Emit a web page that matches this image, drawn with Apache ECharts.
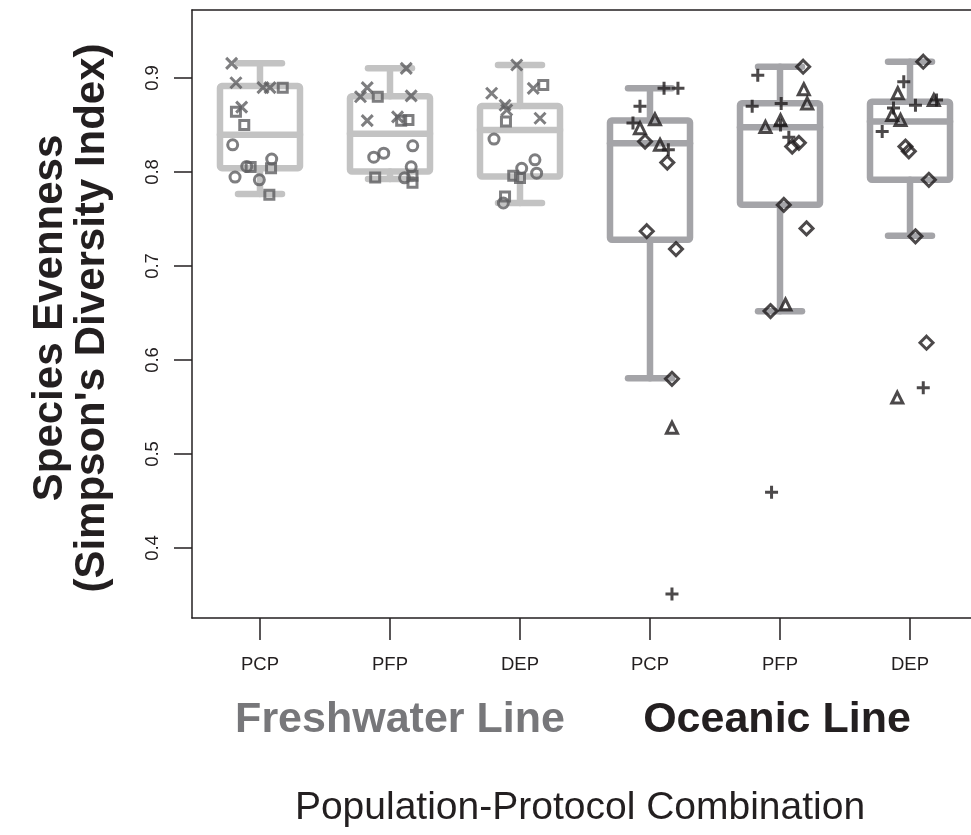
<!DOCTYPE html>
<html>
<head>
<meta charset="utf-8">
<title>Species Evenness by Population-Protocol Combination</title>
<script src="https://cdn.jsdelivr.net/npm/echarts@6/dist/echarts.min.js"></script>
<style>
  html, body { margin: 0; padding: 0; background: #ffffff; }
  #chart { width: 971px; height: 835px; }
</style>
</head>
<body>
<div id="chart"></div>
<script>
// Population-protocol combinations (first three: freshwater line, last three: oceanic line)
const categories = ['PCP', 'PFP', 'DEP', 'PCP', 'PFP', 'DEP'];
const lineNames = ['Freshwater Line', 'Oceanic Line'];
const yTicks = [0.4, 0.5, 0.6, 0.7, 0.8, 0.9];

// Box-and-whisker summaries per combination
const boxMin    = [0.7765, 0.7925, 0.7670, 0.5805, 0.6519, 0.7323];
const boxQ1     = [0.8041, 0.8005, 0.7952, 0.7280, 0.7652, 0.7917];
const boxMedian = [0.8395, 0.8406, 0.8448, 0.8307, 0.8477, 0.8536];
const boxQ3     = [0.8915, 0.8806, 0.8703, 0.8547, 0.8731, 0.8748];
const boxMax    = [0.9156, 0.9103, 0.9138, 0.8890, 0.9120, 0.9173];

// Replicate observations: [combination index, jitter, evenness]
const fwCross = [
  [0, -0.218, 0.9156], [0, -0.185, 0.895], [0, 0.023, 0.8897], [0, 0.077, 0.8897], [0, -0.141, 0.869],
  [1, 0.125, 0.9103], [1, -0.175, 0.8897], [1, -0.227, 0.8801], [1, 0.163, 0.881], [1, -0.175, 0.8547], [1, 0.058, 0.8586],
  [2, -0.025, 0.9138], [2, 0.102, 0.889], [2, -0.218, 0.8838], [2, -0.115, 0.871], [2, -0.102, 0.866], [2, 0.154, 0.8572]
];
const fwSquare = [
  [0, 0.175, 0.8897], [0, -0.185, 0.864], [0, -0.121, 0.850], [0, 0.085, 0.8041], [0, -0.072, 0.8052], [0, 0.072, 0.7758],
  [1, -0.094, 0.8801], [1, 0.086, 0.8544], [1, 0.142, 0.8554], [1, -0.114, 0.7942], [1, 0.173, 0.796], [1, 0.173, 0.7885],
  [2, 0.179, 0.8926], [2, -0.108, 0.8536], [2, -0.052, 0.796], [2, 0.0, 0.7935], [2, -0.115, 0.774]
];
const fwCircle = [
  [0, -0.21, 0.8289], [0, 0.09, 0.8137], [0, -0.102, 0.8059], [0, -0.192, 0.7946], [0, -0.005, 0.7917],
  [1, 0.175, 0.8278], [1, -0.125, 0.8158], [1, -0.048, 0.820], [1, 0.112, 0.7938], [1, 0.163, 0.8055],
  [2, -0.2, 0.835], [2, 0.115, 0.813], [2, 0.128, 0.7988], [2, 0.013, 0.804], [2, -0.128, 0.767]
];
const ocPlus = [
  [3, 0.108, 0.889], [3, 0.215, 0.889], [3, -0.077, 0.870], [3, -0.131, 0.852], [3, 0.141, 0.8236], [3, 0.169, 0.351],
  [4, -0.171, 0.903], [4, -0.214, 0.870], [4, 0.009, 0.873], [4, 0.004, 0.850], [4, 0.068, 0.837], [4, -0.065, 0.4594],
  [5, -0.048, 0.896], [5, 0.042, 0.871], [5, 0.204, 0.8766], [5, -0.127, 0.868], [5, -0.214, 0.843], [5, 0.102, 0.5706]
];
const ocTriangle = [
  [3, 0.038, 0.856], [3, -0.077, 0.8466], [3, 0.077, 0.829], [3, 0.169, 0.528],
  [4, 0.183, 0.888], [4, 0.209, 0.873], [4, -0.112, 0.848], [4, 0.004, 0.855], [4, 0.042, 0.659],
  [5, -0.094, 0.8838], [5, 0.183, 0.8766], [5, -0.137, 0.8607], [5, -0.073, 0.8554], [5, -0.098, 0.560]
];
const ocDiamond = [
  [3, -0.038, 0.8324], [3, 0.133, 0.810], [3, -0.025, 0.737], [3, 0.2, 0.718], [3, 0.169, 0.580],
  [4, 0.178, 0.912], [4, 0.094, 0.827], [4, 0.145, 0.831], [4, 0.029, 0.765], [4, 0.204, 0.740], [4, -0.073, 0.652],
  [5, 0.102, 0.9173], [5, -0.035, 0.827], [5, -0.009, 0.822], [5, 0.145, 0.7917], [5, 0.042, 0.7316], [5, 0.127, 0.6184]
];

const FONT = "'Liberation Sans', Arial, Helvetica, sans-serif";
const INK = '#231f20';
const FW_BOX = '#c3c3c3';
const OC_BOX = '#a4a4a8';
const FW_PT = '#5e5e60';
const OC_PT = '#1f1c1d';
const X_MIN = 0.477;
const X_MAX = 6.523;

const boxData = categories.map((c, i) => [i + 1, boxMin[i], boxQ1[i], boxMedian[i], boxQ3[i], boxMax[i]]);

function toXY(rows) {
  return rows.map(r => [r[0] + 1 + r[1], r[2]]);
}

function renderBox(params, api) {
  const x = api.value(0);
  const pMin = api.coord([x, api.value(1)]);
  const pQ1 = api.coord([x, api.value(2)]);
  const pMed = api.coord([x, api.value(3)]);
  const pQ3 = api.coord([x, api.value(4)]);
  const pMax = api.coord([x, api.value(5)]);
  const cx = pMed[0];
  const halfBox = 40;
  const halfCap = 22;
  const color = x <= 3 ? FW_BOX : OC_BOX;
  const st = { stroke: color, lineWidth: 6.5, fill: null, lineCap: 'round', lineJoin: 'round' };
  return {
    type: 'group',
    children: [
      { type: 'line', shape: { x1: cx, y1: pQ3[1], x2: cx, y2: pMax[1] }, style: st },
      { type: 'line', shape: { x1: cx, y1: pQ1[1], x2: cx, y2: pMin[1] }, style: st },
      { type: 'line', shape: { x1: cx - halfCap, y1: pMax[1], x2: cx + halfCap, y2: pMax[1] }, style: st },
      { type: 'line', shape: { x1: cx - halfCap, y1: pMin[1], x2: cx + halfCap, y2: pMin[1] }, style: st },
      { type: 'rect', shape: { x: cx - halfBox, y: pQ3[1], width: 2 * halfBox, height: pQ1[1] - pQ3[1], r: 2 }, style: st },
      { type: 'line', shape: { x1: cx - halfBox, y1: pMed[1], x2: cx + halfBox, y2: pMed[1] }, style: st }
    ]
  };
}

function pointSeries(name, rows, symbol, size, color) {
  return {
    name: name,
    type: 'scatter',
    data: toXY(rows),
    symbol: symbol,
    symbolSize: size,
    z: 5,
    itemStyle: { color: 'none', borderColor: color, borderWidth: 3 },
    emphasis: { disabled: true }
  };
}

const CROSS = 'path://M0,0L10,10M10,0L0,10';
const PLUS = 'path://M5,0L5,10M0,5L10,5';
const frameLine = { show: true, lineStyle: { color: INK, width: 1.5 } };

const chart = echarts.init(document.getElementById('chart'), null, { renderer: 'canvas' });

chart.setOption({
  animation: false,
  backgroundColor: '#ffffff',
  grid: {
    left: 192, top: 10, width: 786, height: 608,
    outerBoundsMode: 'none',
    containLabel: false,
    show: false
  },
  xAxis: [
    {
      type: 'value',
      position: 'bottom',
      min: X_MIN, max: X_MAX,
      splitLine: { show: false },
      axisLine: frameLine,
      axisTick: { show: true, length: 22, lineStyle: { color: INK, width: 1.5 }, customValues: [1, 2, 3, 4, 5, 6] },
      axisLabel: {
        customValues: [1, 2, 3, 4, 5, 6],
        formatter: v => categories[Math.round(v) - 1],
        margin: 37, fontSize: 18.5, fontFamily: FONT, color: INK
      }
    },
    {
      // top edge of the plot frame
      type: 'value',
      position: 'top',
      min: X_MIN, max: X_MAX,
      splitLine: { show: false },
      axisLine: frameLine,
      axisTick: { show: false },
      axisLabel: { show: false }
    }
  ],
  yAxis: {
    type: 'value',
    min: 0.32553, max: 0.97234,
    splitLine: { show: false },
    axisLine: frameLine,
    axisTick: { show: true, length: 18, lineStyle: { color: INK, width: 1.5 }, customValues: yTicks },
    axisLabel: {
      customValues: yTicks,
      formatter: v => v.toFixed(1),
      rotate: 90, margin: 30, fontSize: 18.5, fontFamily: FONT, color: INK
    }
  },
  series: [
    {
      type: 'custom',
      name: 'boxes',
      renderItem: renderBox,
      data: boxData,
      encode: { x: 0, y: [1, 2, 3, 4, 5] },
      z: 2,
      silent: true
    },
    pointSeries('fw-cross', fwCross, CROSS, 11, FW_PT),
    pointSeries('fw-square', fwSquare, 'rect', 9, FW_PT),
    pointSeries('fw-circle', fwCircle, 'circle', 10, FW_PT),
    pointSeries('oc-plus', ocPlus, PLUS, 13, OC_PT),
    pointSeries('oc-triangle', ocTriangle, 'triangle', 11, OC_PT),
    pointSeries('oc-diamond', ocDiamond, 'diamond', 13, OC_PT)
  ],
  graphic: [
    {
      type: 'text', x: 50, y: 318, rotation: Math.PI / 2,
      style: { text: 'Species Evenness', font: `bold 42px ${FONT}`, fill: INK, align: 'center', verticalAlign: 'middle' }
    },
    {
      type: 'text', x: 92, y: 318, rotation: Math.PI / 2,
      style: { text: "(Simpson's Diversity Index)", font: `bold 42px ${FONT}`, fill: INK, align: 'center', verticalAlign: 'middle' }
    },
    {
      type: 'text', x: 400, y: 720,
      style: { text: lineNames[0], font: `bold 43px ${FONT}`, fill: '#77777a', align: 'center', verticalAlign: 'middle' }
    },
    {
      type: 'text', x: 777, y: 720,
      style: { text: lineNames[1], font: `bold 43px ${FONT}`, fill: INK, align: 'center', verticalAlign: 'middle' }
    },
    {
      type: 'text', x: 580, y: 808,
      style: { text: 'Population-Protocol Combination', font: `39px ${FONT}`, fill: INK, align: 'center', verticalAlign: 'middle' }
    }
  ]
});
</script>
</body>
</html>
